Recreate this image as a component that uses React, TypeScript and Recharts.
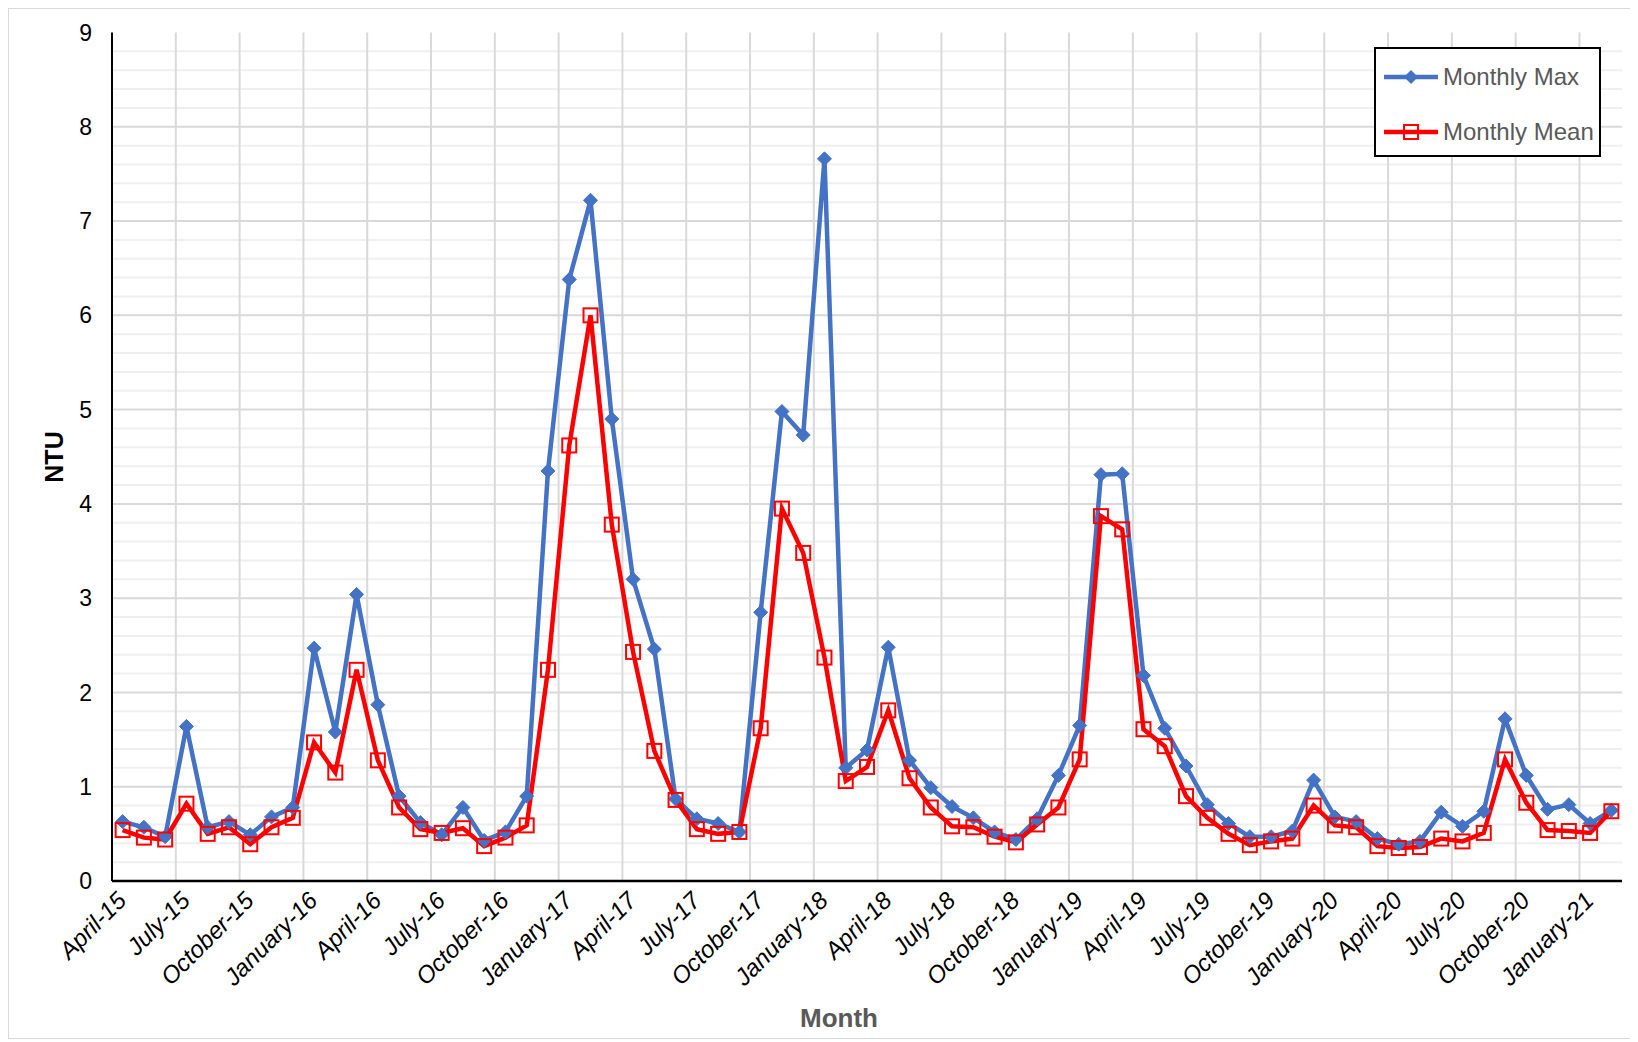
import React from "react";
import { LineChart, Line, XAxis, YAxis, CartesianGrid } from "recharts";

const FONT = '"Liberation Sans", Arial, Helvetica, sans-serif';
const BLUE = "#4472C4";
const RED = "#FF0000";

// Apr 2015 .. Feb 2021, one entry per month
const months = [
  "April-15", "May-15", "June-15", "July-15", "August-15", "September-15",
  "October-15", "November-15", "December-15", "January-16", "February-16", "March-16",
  "April-16", "May-16", "June-16", "July-16", "August-16", "September-16",
  "October-16", "November-16", "December-16", "January-17", "February-17", "March-17",
  "April-17", "May-17", "June-17", "July-17", "August-17", "September-17",
  "October-17", "November-17", "December-17", "January-18", "February-18", "March-18",
  "April-18", "May-18", "June-18", "July-18", "August-18", "September-18",
  "October-18", "November-18", "December-18", "January-19", "February-19", "March-19",
  "April-19", "May-19", "June-19", "July-19", "August-19", "September-19",
  "October-19", "November-19", "December-19", "January-20", "February-20", "March-20",
  "April-20", "May-20", "June-20", "July-20", "August-20", "September-20",
  "October-20", "November-20", "December-20", "January-21", "February-21",
];

const monthlyMax = [
  0.63, 0.57, 0.47, 1.64, 0.57, 0.63, 0.49, 0.68, 0.78,
  2.47, 1.58, 3.04, 1.87, 0.90, 0.62, 0.49, 0.78, 0.43, 0.52, 0.90, 4.35,
  6.38, 7.22, 4.90, 3.20, 2.46, 0.87, 0.66, 0.61, 0.52, 2.85, 4.98, 4.73,
  7.66, 1.20, 1.39, 2.48, 1.28, 0.99, 0.79, 0.67, 0.52, 0.44, 0.66, 1.12,
  1.65, 4.31, 4.32, 2.18, 1.62, 1.22, 0.81, 0.61, 0.47, 0.47, 0.53, 1.07,
  0.68, 0.63, 0.45, 0.39, 0.42, 0.73, 0.58, 0.74, 1.72, 1.12, 0.76, 0.81,
  0.61, 0.75,
];

const monthlyMean = [
  0.54, 0.46, 0.44, 0.82, 0.50, 0.57, 0.39, 0.57, 0.67,
  1.47, 1.15, 2.24, 1.28, 0.78, 0.55, 0.51, 0.56, 0.37, 0.46, 0.59, 2.24,
  4.62, 6.00, 3.78, 2.43, 1.38, 0.86, 0.55, 0.50, 0.52, 1.62, 3.95, 3.48,
  2.37, 1.06, 1.21, 1.81, 1.09, 0.78, 0.58, 0.57, 0.47, 0.41, 0.60, 0.78,
  1.29, 3.87, 3.73, 1.61, 1.43, 0.90, 0.67, 0.50, 0.38, 0.42, 0.45, 0.80,
  0.59, 0.57, 0.37, 0.35, 0.36, 0.45, 0.42, 0.51, 1.29, 0.83, 0.54, 0.53,
  0.51, 0.74,
];

const yTicks = [0, 1, 2, 3, 4, 5, 6, 7, 8, 9];
const Y_MAX = 9;

const data = months.map((month, i) => ({
  month,
  max: monthlyMax[i],
  mean: monthlyMean[i],
}));

const CHART_W = 1622;
const CHART_H = 1029;

// grid helpers: minor lines every 0.2 NTU, major every 1 NTU / every quarter
const minorLines = ({ offset }: any) => {
  const out: number[] = [];
  for (let k = 1; k < Y_MAX * 5; k++) {
    if (k % 5 === 0) continue;
    out.push(offset.top + offset.height * (1 - k / 5 / Y_MAX));
  }
  return out;
};
const majorLines = ({ offset }: any) =>
  yTicks.slice(1, -1).map((v) => offset.top + offset.height * (1 - v / Y_MAX));
const quarterLines = ({ offset }: any) => {
  const out: number[] = [];
  for (let k = 3; k < months.length; k += 3) {
    out.push(offset.left + (offset.width * k) / months.length);
  }
  return out;
};

const diamondDot = (p: any) => {
  const s = 7;
  return (
    <path
      key={`mx-${p.index}`}
      d={`M${p.cx},${p.cy - s}L${p.cx + s},${p.cy}L${p.cx},${p.cy + s}L${p.cx - s},${p.cy}Z`}
      fill={BLUE}
      stroke={BLUE}
      strokeWidth={1}
    />
  );
};

const squareDot = (p: any) => (
  <rect
    key={`mn-${p.index}`}
    x={p.cx - 7}
    y={p.cy - 7}
    width={14}
    height={14}
    fill="none"
    stroke={RED}
    strokeWidth={2}
  />
);

function MonthTick({ x, y, payload }: any) {
  const tx = x + 5;
  const ty = y + 21;
  return (
    <text
      x={tx}
      y={ty}
      transform={`rotate(-45 ${tx} ${ty})`}
      textAnchor="end"
      fontSize={24}
      fontStyle="italic"
      fontFamily={FONT}
      fill="#000"
    >
      {payload.value}
    </text>
  );
}

function LegendBox() {
  const row = (label: string, color: string, marker: React.ReactNode) => (
    <div style={{ display: "flex", alignItems: "center", height: 55 }}>
      <svg width={60} height={20} style={{ marginLeft: 7 }}>
        <line x1={1} y1={10} x2={55} y2={10} stroke={color} strokeWidth={4.5} />
        {marker}
      </svg>
      <span style={{ fontSize: 24, color: "#595959" }}>{label}</span>
    </div>
  );
  return (
    <div
      style={{
        position: "absolute",
        left: 1365,
        top: 38,
        width: 227,
        height: 110,
        boxSizing: "border-box",
        border: "2px solid #000",
        background: "#fff",
        fontFamily: FONT,
      }}
    >
      {row(
        "Monthly Max",
        BLUE,
        <path d="M28,3L35,10L28,17L21,10Z" fill={BLUE} />
      )}
      {row(
        "Monthly Mean",
        RED,
        <rect x={21} y={3} width={14} height={14} fill="none" stroke={RED} strokeWidth={2} />
      )}
    </div>
  );
}

export default function App() {
  return (
    <div
      style={{
        position: "relative",
        width: CHART_W,
        height: CHART_H,
        border: "1px solid #d9d9d9",
        background: "#fff",
        fontFamily: FONT,
      }}
    >
      <LineChart
        width={CHART_W}
        height={CHART_H}
        data={data}
        margin={{ top: 23.5, right: 9, bottom: 67, left: 43 }}
      >
        <CartesianGrid
          stroke="#efefef"
          strokeWidth={2}
          vertical={false}
          horizontalCoordinatesGenerator={minorLines}
        />
        <CartesianGrid
          stroke="#d9d9d9"
          strokeWidth={2}
          horizontalCoordinatesGenerator={majorLines}
          verticalCoordinatesGenerator={quarterLines}
        />
        <XAxis
          dataKey="month"
          scale="band"
          interval={2}
          tick={<MonthTick />}
          tickLine={false}
          tickSize={0}
          tickMargin={0}
          height={90}
          axisLine={{ stroke: "#000", strokeWidth: 2.5 }}
        />
        <XAxis
          xAxisId="top"
          orientation="top"
          dataKey="month"
          scale="band"
          height={0}
          tick={false}
          tickLine={false}
          axisLine={{ stroke: "#000", strokeWidth: 2 }}
        />
        <YAxis
          type="number"
          domain={[0, Y_MAX]}
          ticks={yTicks}
          width={60}
          tickLine={false}
          tickSize={0}
          tickMargin={20}
          tick={{ fontSize: 23, fill: "#000", fontFamily: FONT }}
          axisLine={{ stroke: "#000", strokeWidth: 2 }}
        />
        <YAxis
          yAxisId="right"
          orientation="right"
          type="number"
          domain={[0, Y_MAX]}
          width={0}
          tick={false}
          tickLine={false}
          axisLine={{ stroke: "#000", strokeWidth: 2 }}
        />
        <Line
          type="linear"
          dataKey="max"
          name="Monthly Max"
          stroke={BLUE}
          strokeWidth={4.5}
          dot={diamondDot}
          activeDot={false}
          isAnimationActive={false}
        />
        <Line
          type="linear"
          dataKey="mean"
          name="Monthly Mean"
          stroke={RED}
          strokeWidth={4.5}
          dot={squareDot}
          activeDot={false}
          isAnimationActive={false}
        />
      </LineChart>

      <div
        style={{
          position: "absolute",
          left: 45,
          top: 448,
          transform: "translate(-50%, -50%) rotate(-90deg)",
          fontSize: 25,
          fontWeight: "bold",
          color: "#000",
          whiteSpace: "nowrap",
        }}
      >
        NTU
      </div>
      <div
        style={{
          position: "absolute",
          left: 830,
          top: 1009,
          transform: "translate(-50%, -50%)",
          fontSize: 26,
          fontWeight: "bold",
          color: "#595959",
          whiteSpace: "nowrap",
        }}
      >
        Month
      </div>
      <LegendBox />
    </div>
  );
}
